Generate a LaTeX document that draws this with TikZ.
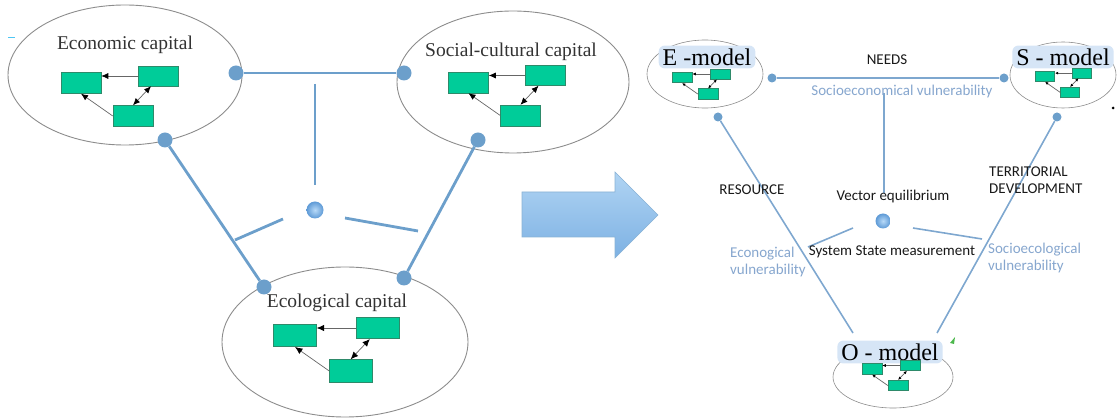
\documentclass[tikz,border=0pt]{standalone}
\usepackage{fontspec}
\setmainfont{Liberation Serif}
\newfontfamily\calfont{Carlito}
\usetikzlibrary{shapes.geometric,arrows.meta,calc}
\definecolor{lblue}{HTML}{6C9FCB}
\definecolor{rblue}{HTML}{7EA7CF}
\definecolor{vtext}{HTML}{86A6CE}
\definecolor{gfill}{HTML}{00CC99}
\definecolor{gdraw}{HTML}{2E8A6A}
\definecolor{glow}{HTML}{D6E5F6}
\definecolor{atop}{HTML}{B0D4F3}
\definecolor{abot}{HTML}{7DB1E3}
\definecolor{bin}{HTML}{B8DAF8}
\definecolor{bout}{HTML}{5E9AD6}
\tikzset{
  ell/.style={draw=black!45, line width=0.9pt, ellipse, inner sep=0pt},
  gbox/.style={draw=gdraw, line width=0.5pt, fill=gfill, inner sep=0pt},
  marr/.style={draw=black!60, line width=0.7pt},
  lline/.style={draw=lblue, line width=2.8pt},
  rline/.style={draw=rblue, line width=1.6pt},
  ldot/.style={circle, fill=lblue, inner sep=0pt, minimum size=15pt},
  rdot/.style={circle, fill=lblue, inner sep=0pt, minimum size=9pt},
  ball/.style={circle, inner sep=0pt, inner color=bin, outer color=bout},
  capt/.style={text=black!80, font=\fontsize{19.5}{21}\selectfont, inner sep=1pt},
  mtxt/.style={text=black, font=\fontsize{24}{26}\selectfont, fill=glow, rounded corners=6pt, inner xsep=4pt, inner ysep=3pt},
  ktxt/.style={text=black!90, font=\calfont\fontsize{15}{17}\selectfont, inner sep=1pt},
  vtxt/.style={text=vtext, font=\calfont\fontsize{15}{17}\selectfont, inner sep=1pt},
}
\newcommand\mini[4]{%
  \node[gbox, minimum width={#4*40pt}, minimum height={#4*21pt}] (#1a) at (#2,#3) {};
  \node[gbox, minimum width={#4*40pt}, minimum height={#4*20pt}] (#1b) at ({#2+77*#4},{#3-7*#4}) {};
  \node[gbox, minimum width={#4*40pt}, minimum height={#4*21pt}] (#1c) at ({#2+52*#4},{#3+33*#4}) {};
  \draw[marr, -{Latex[length=7pt,width=6pt,scale=#4,color=black]}] (#1b.west) -- (#1a.east |- #1b.west);
  \draw[marr, -{Latex[length=7pt,width=6pt,scale=#4,color=black]}] (#1c.west) -- (#1a.south);
  \draw[marr, {Latex[length=7pt,width=6pt,scale=#4,color=black]}-{Latex[length=7pt,width=6pt,scale=#4,color=black]}] (#1c.north) -- ([xshift={-7*#4 pt}]#1b.south);
}
\begin{document}
\begin{tikzpicture}[x=1pt,y=-1pt]
\useasboundingbox (0,0) rectangle (1120,419);
% ---------- left part ----------
\node[ell, minimum width=234pt, minimum height=140pt] (econ) at (125,75) {};
\node[ell, minimum width=232pt, minimum height=142pt] (soc) at (513,82) {};
\node[ell, minimum width=246pt, minimum height=150pt] (eco) at (345,342) {};
\node[capt] (econl) at (125,45) {Economic capital};
\node[capt] (socl) at (511,52) {Social-cultural capital};
\node[capt] (ecol) at (337,303) {Ecological capital};
\mini{e}{81}{83}{1}
\mini{s}{468.5}{82.5}{1}
\mini{o}{295}{335.5}{1.07}
\draw[draw=cyan!70, line width=1pt] (8,38) coordinate (cy1) -- (15,38) coordinate (cy2);
% connectors
\node[ldot] (d1) at (236,73) {};
\node[ldot] (d2) at (404,73) {};
\node[ldot] (d3) at (165,140) {};
\node[ldot] (d4) at (264,287) {};
\node[ldot] (d5) at (478,140) {};
\node[ldot] (d6) at (404,278) {};
\draw[lline] (d1) -- (d2);
\draw[lline] (d3) -- (d4);
\draw[lline] (d5) -- (d6);
\coordinate (v1) at (315,84);
\coordinate (v2) at (315,185);
\draw[lline] (v1) -- (v2);
\node[ball, minimum size=17pt] (cball) at (315,210) {};
\coordinate (s1) at (283,219);
\coordinate (s2) at (235,240);
\coordinate (s3) at (345,218);
\coordinate (s4) at (418,231);
\draw[lline] (s1) -- (s2);
\draw[lline] (s3) -- (s4);
% ---------- big arrow ----------
\path[draw=lblue!80, line width=0.6pt, top color=atop, bottom color=abot]
  (522,192) coordinate (a1) -- (615,192) -- (615,172) -- (658,215) coordinate (atip) -- (615,258) -- (615,237) -- (522,237) -- cycle;
% ---------- right part ----------
\node[ell, minimum width=116pt, minimum height=68pt, line width=0.6pt] (em) at (705,74) {};
\node[ell, minimum width=106pt, minimum height=66pt, line width=0.6pt] (sm) at (1063,75) {};
\node[ell, minimum width=120pt, minimum height=62pt, line width=0.6pt] (om) at (893,377) {};
\node[mtxt] (eml) at (707,57) {E -model};
\node[mtxt] (sml) at (1063,57) {S - model};
\node[mtxt] (oml) at (890,352) {O - model};
\mini{E}{682}{77.5}{0.5}
\mini{S}{1045}{76.5}{0.48}
\mini{O}{872}{369}{0.5}
\node[rdot] (r1) at (772,78) {};
\node[rdot] (r2) at (1004,78) {};
\node[rdot] (r3) at (718,117) {};
\node[rdot] (r4) at (1057,117) {};
\coordinate (r5) at (853,333);
\coordinate (r6) at (937,333);
\draw[rline] (r1) -- (r2);
\draw[rline] (r3) -- (r5);
\draw[rline] (r4) -- (r6);
\coordinate (rv1) at (884,93);
\coordinate (rv2) at (884,193);
\draw[rline] (rv1) -- (rv2);
\node[ball, minimum size=15pt] (rball) at (883,221) {};
\coordinate (t1) at (853,228);
\coordinate (t2) at (808,247);
\coordinate (t3) at (913,228);
\coordinate (t4) at (982,239);
\draw[rline] (t1) -- (t2);
\draw[rline] (t3) -- (t4);
\node[ktxt] (needs) at (887,60) {NEEDS};
\node[vtxt] (sev) at (902,92) {Socioeconomical vulnerability};
\node[ktxt] (res) at (752,190) {RESOURCE};
\node[ktxt] (veq) at (893,197) {Vector equilibrium};
\node[ktxt, align=left, anchor=west] (terr) at (988,180) {TERRITORIAL\\DEVELOPMENT};
\node[ktxt] (ssm) at (892,252) {System State measurement};
\node[vtxt, align=left, anchor=west] (ecv) at (729,262) {Econogical\\vulnerability};
\node[vtxt, align=left, anchor=west] (socv) at (987,258) {Socioecological\\vulnerability};
\fill[green!60!black!70] (950,343) coordinate (g1) -- (955,337) -- (954,344) -- cycle;
\fill[black] (1113,108) circle (1.5pt) coordinate (bd);
\end{tikzpicture}
\end{document}
